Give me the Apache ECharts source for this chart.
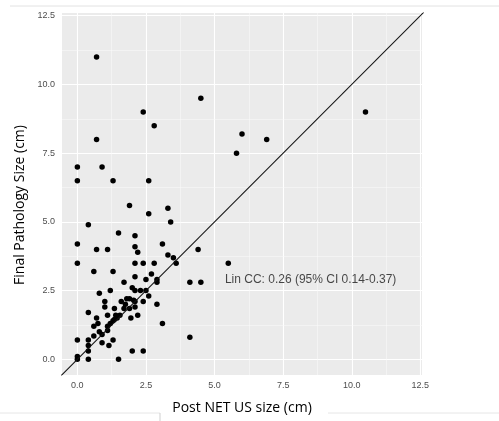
<!DOCTYPE html>
<html><head><meta charset="utf-8">
<script src="https://cdn.jsdelivr.net/npm/echarts@6/dist/echarts.min.js"></script>
<style>html,body{margin:0;padding:0;background:#fff}#c{width:499px;height:421px}</style>
</head><body><div id="c"></div>
<script>
// Post NET US size (cm)
const postNetUS = [
  0.7, 2.4, 2.8, 4.5, 0.7, 0, 0.9, 0, 1.3, 2.6, 5.8, 6.0, 6.9, 10.5,
  1.9, 3.3, 2.6, 3.4, 0.4, 1.5, 2.1, 0, 3.1, 2.1, 0.7, 1.1, 2.2, 4.4, 3.3, 3.5,
  0, 2.1, 2.4, 2.8, 3.6, 5.5, 0.6, 1.3, 2.7, 2.1, 2.5, 2.9, 1.7, 2.9, 4.1, 4.5,
  2.0, 2.1, 2.3, 2.5, 1.2, 0.8, 2.6, 1.8, 1.9, 2.05, 1.0, 1.6, 2.4, 2.1, 1.75, 2.9,
  1.0, 1.35, 1.7, 1.9, 2.1, 0.4, 1.1, 1.4, 2.2, 1.95, 0.7, 1.35, 1.45, 0.75, 1.2, 0.6,
  1.1, 3.1, 0.8, 1.1, 0.6, 0.9, 0.4, 0.9, 1.15, 1.3, 0, 0.4, 4.1, 0.4, 2.0, 2.4,
  0, 0, 0.4, 1.5, 1.55, 1.3
];
// Final Pathology Size (cm)
const finalPathology = [
  11.0, 9.0, 8.5, 9.5, 8.0, 7.0, 7.0, 6.5, 6.5, 6.5, 7.5, 8.2, 8.0, 9.0,
  5.6, 5.5, 5.3, 5.0, 4.9, 4.6, 4.5, 4.2, 4.2, 4.1, 4.0, 4.0, 3.9, 4.0, 3.8, 3.7,
  3.5, 3.5, 3.5, 3.5, 3.5, 3.5, 3.2, 3.2, 3.1, 3.0, 2.9, 2.9, 2.8, 2.8, 2.8, 2.8,
  2.6, 2.5, 2.5, 2.5, 2.5, 2.4, 2.3, 2.2, 2.2, 2.15, 2.1, 2.1, 2.1, 2.1, 2.0, 2.0,
  1.9, 1.85, 1.85, 1.85, 1.9, 1.7, 1.6, 1.6, 1.6, 1.5, 1.5, 1.45, 1.5, 1.3, 1.3, 1.2,
  1.2, 1.3, 1.0, 1.05, 0.85, 0.9, 0.5, 0.6, 0.5, 0.7, 0.7, 0.7, 0.8, 0.3, 0.3, 0.3,
  0.1, 0, 0, 0, 1.6, 1.4
];
const majorBreaks = [0, 2.5, 5, 7.5, 10, 12.5];
const minorBreaks = [1.25, 3.75, 6.25, 8.75, 11.25];
const tickLabels = ['0.0', '2.5', '5.0', '7.5', '10.0', '12.5'];
const xLimits = [-0.56, 12.56];
const yLimits = [-0.57, 12.6];
const identityLine = [-1, 14];
const annotationX = [8.5];
const annotationY = [2.9];
const annotationText = 'Lin CC: 0.26 (95% CI 0.14-0.37)';

const points = postNetUS.map((x, i) => [x, finalPathology[i]]);
const labelOf = v => tickLabels[majorBreaks.indexOf(v)] ?? String(v);

const gridMarks = [];
majorBreaks.forEach(v => {
  gridMarks.push({xAxis: v, lineStyle: {color: '#fff', width: 1.1, type: 'solid'}});
  gridMarks.push({yAxis: v, lineStyle: {color: '#fff', width: 1.1, type: 'solid'}});
});
minorBreaks.forEach(v => {
  gridMarks.push({xAxis: v, lineStyle: {color: '#fafafa', width: 0.55, type: 'solid'}});
  gridMarks.push({yAxis: v, lineStyle: {color: '#fafafa', width: 0.55, type: 'solid'}});
});

const chart = echarts.init(document.getElementById('c'), null, {renderer: 'canvas'});
chart.setOption({
  animation: false,
  backgroundColor: '#fff',
  grid: {left: 62, right: 77, top: 13, bottom: 46, show: true, backgroundColor: '#EBEBEB', borderWidth: 0},
  xAxis: {
    type: 'value', min: xLimits[0], max: xLimits[1],
    axisLine: {show: false},
    axisTick: {show: true, customValues: majorBreaks, length: 3.5, lineStyle: {color: '#333', width: 1}},
    axisLabel: {customValues: majorBreaks, formatter: labelOf, color: '#4d4d4d', fontSize: 9, margin: 6, fontFamily: 'Liberation Sans'},
    splitLine: {show: false},
    name: 'Post NET US size (cm)', nameLocation: 'middle', nameGap: 26,
    nameTextStyle: {fontSize: 14, color: '#000', fontFamily: 'Open Sans'}
  },
  yAxis: {
    type: 'value', min: yLimits[0], max: yLimits[1],
    axisLine: {show: false},
    axisTick: {show: true, customValues: majorBreaks, length: 3.5, lineStyle: {color: '#333', width: 1}},
    axisLabel: {customValues: majorBreaks, formatter: labelOf, color: '#4d4d4d', fontSize: 9, margin: 7, fontFamily: 'Liberation Sans'},
    splitLine: {show: false},
    name: 'Final Pathology Size (cm)', nameLocation: 'middle', nameGap: 34,
    nameTextStyle: {fontSize: 14, color: '#000', fontFamily: 'Open Sans', padding: [0, 22, 0, 0]}
  },
  series: [
    {
      type: 'scatter', data: [], z: 1, silent: true,
      markLine: {z: 1, silent: true, symbol: 'none', label: {show: false}, animation: false, data: gridMarks}
    },
    {
      type: 'scatter', data: points, symbolSize: 5.5, z: 3,
      itemStyle: {color: '#000', opacity: 1}
    },
    {
      type: 'line', data: identityLine.map(v => [v, v]), showSymbol: false, z: 4, clip: true,
      lineStyle: {color: '#111', width: 1.1}
    },
    {
      type: 'scatter', data: annotationX.map((x, i) => [x, annotationY[i]]), symbolSize: 1, z: 5,
      itemStyle: {color: 'rgba(0,0,0,0)'},
      label: {show: true, position: 'inside', formatter: annotationText, color: '#1a1a1a', fontSize: 12, fontFamily: 'Liberation Sans'}
    }
  ],
  graphic: [
    {type: 'line', shape: {x1: 10, y1: 6, x2: 499, y2: 6}, style: {stroke: '#e2e2e2', lineWidth: 1}, silent: true},
    {type: 'line', shape: {x1: 0, y1: 413, x2: 160, y2: 413}, style: {stroke: '#e6e6e6', lineWidth: 1}, silent: true},
    {type: 'line', shape: {x1: 160, y1: 413, x2: 160, y2: 421}, style: {stroke: '#cfcfcf', lineWidth: 1}, silent: true},
    {type: 'line', shape: {x1: 328, y1: 413, x2: 499, y2: 413}, style: {stroke: '#e6e6e6', lineWidth: 1}, silent: true}
  ]
});
</script>
</body></html>
